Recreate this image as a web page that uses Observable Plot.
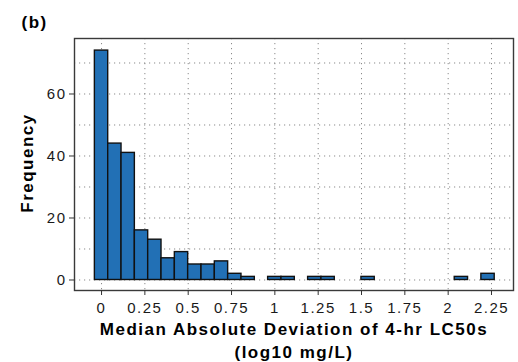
<!DOCTYPE html>
<html>
<head>
<meta charset="utf-8">
<script src="https://cdn.jsdelivr.net/npm/d3@7"></script>
<script src="https://cdn.jsdelivr.net/npm/@observablehq/plot@0.6"></script>
<style>
  html, body { margin: 0; padding: 0; background: #fff; overflow: hidden; }
  #chart svg text { letter-spacing: 1.5px; }
</style>
</head>
<body>
<div id="chart"></div>
<script>
// Histogram: 30 bins, bin width ~0.0769 (log10 mg/L), centered at i*binWidth
const binWidth = 0.0769;
const binIndex = [0,1,2,3,4,5,6,7,8,9,10,11,12,13,14,15,16,17,18,19,20,21,22,23,24,25,26,27,28,29];
const counts   = [74,44,41,16,13,7,9,5,5,6,2,1,0,1,1,0,1,1,0,0,1,0,0,0,0,0,0,1,0,2];
const xTicks = [0, 0.25, 0.5, 0.75, 1, 1.25, 1.5, 1.75, 2, 2.25];
const yTicks = [0, 20, 40, 60];
const yGrid = [0, 10, 20, 30, 40, 50, 60, 70];
const titleText = "(b)";
const xTitle1 = "Median Absolute Deviation of 4-hr LC50s";
const xTitle2 = "(log10 mg/L)";
const yTitle = "Frequency";

const bins = binIndex.map((i, k) => ({
  x1: i * binWidth - binWidth / 2,
  x2: i * binWidth + binWidth / 2,
  count: counts[k]
})).filter(d => d.count > 0);

const chart = Plot.plot({
  width: 518,
  height: 362,
  marginLeft: 74,
  marginRight: 5,
  marginTop: 38,
  marginBottom: 72,
  style: { fontFamily: "Liberation Sans, Arial, sans-serif", background: "#fff" },
  x: { domain: [-0.156, 2.377] },
  y: { domain: [-3.39, 77.9] },
  marks: [
    Plot.gridY(yGrid, { stroke: "#8a8a8a", strokeOpacity: 1, strokeDasharray: "1.2,3.8", strokeWidth: 1 }),
    Plot.gridX(xTicks, { stroke: "#8a8a8a", strokeOpacity: 1, strokeDasharray: "1.2,3.8", strokeWidth: 1 }),
    Plot.rectY(bins, { x1: "x1", x2: "x2", y: "count", fill: "#2270b5", stroke: "#111", strokeWidth: 1.4 }),
    Plot.frame({ stroke: "#3a3a3a", strokeWidth: 1.4 }),
    Plot.axisX(xTicks, { tickSize: 5, tickPadding: 7.3, fontSize: 15, fill: "#1a1a1a", stroke: "#333", tickFormat: d => String(d), label: null }),
    Plot.axisY(yTicks, { tickSize: 5, tickPadding: 3, fontSize: 15, fill: "#1a1a1a", stroke: "#333", label: null }),
    Plot.text([titleText], { frameAnchor: "top-left", dx: -53, dy: -22.5, text: d => d, textAnchor: "start", fontSize: 17, fontWeight: "bold", fill: "#000" }),
    Plot.text([xTitle1], { frameAnchor: "bottom", dy: 44.8, text: d => d, textAnchor: "middle", fontSize: 17, fontWeight: "bold", fill: "#000" }),
    Plot.text([xTitle2], { frameAnchor: "bottom", dy: 67.5, text: d => d, textAnchor: "middle", fontSize: 17, fontWeight: "bold", fill: "#000" }),
    Plot.text([yTitle], { frameAnchor: "left", dx: -46.5, dy: -1.5, text: d => d, rotate: -90, textAnchor: "middle", fontSize: 17, fontWeight: "bold", fill: "#000" })
  ]
});
document.getElementById("chart").appendChild(chart);
</script>
</body>
</html>
